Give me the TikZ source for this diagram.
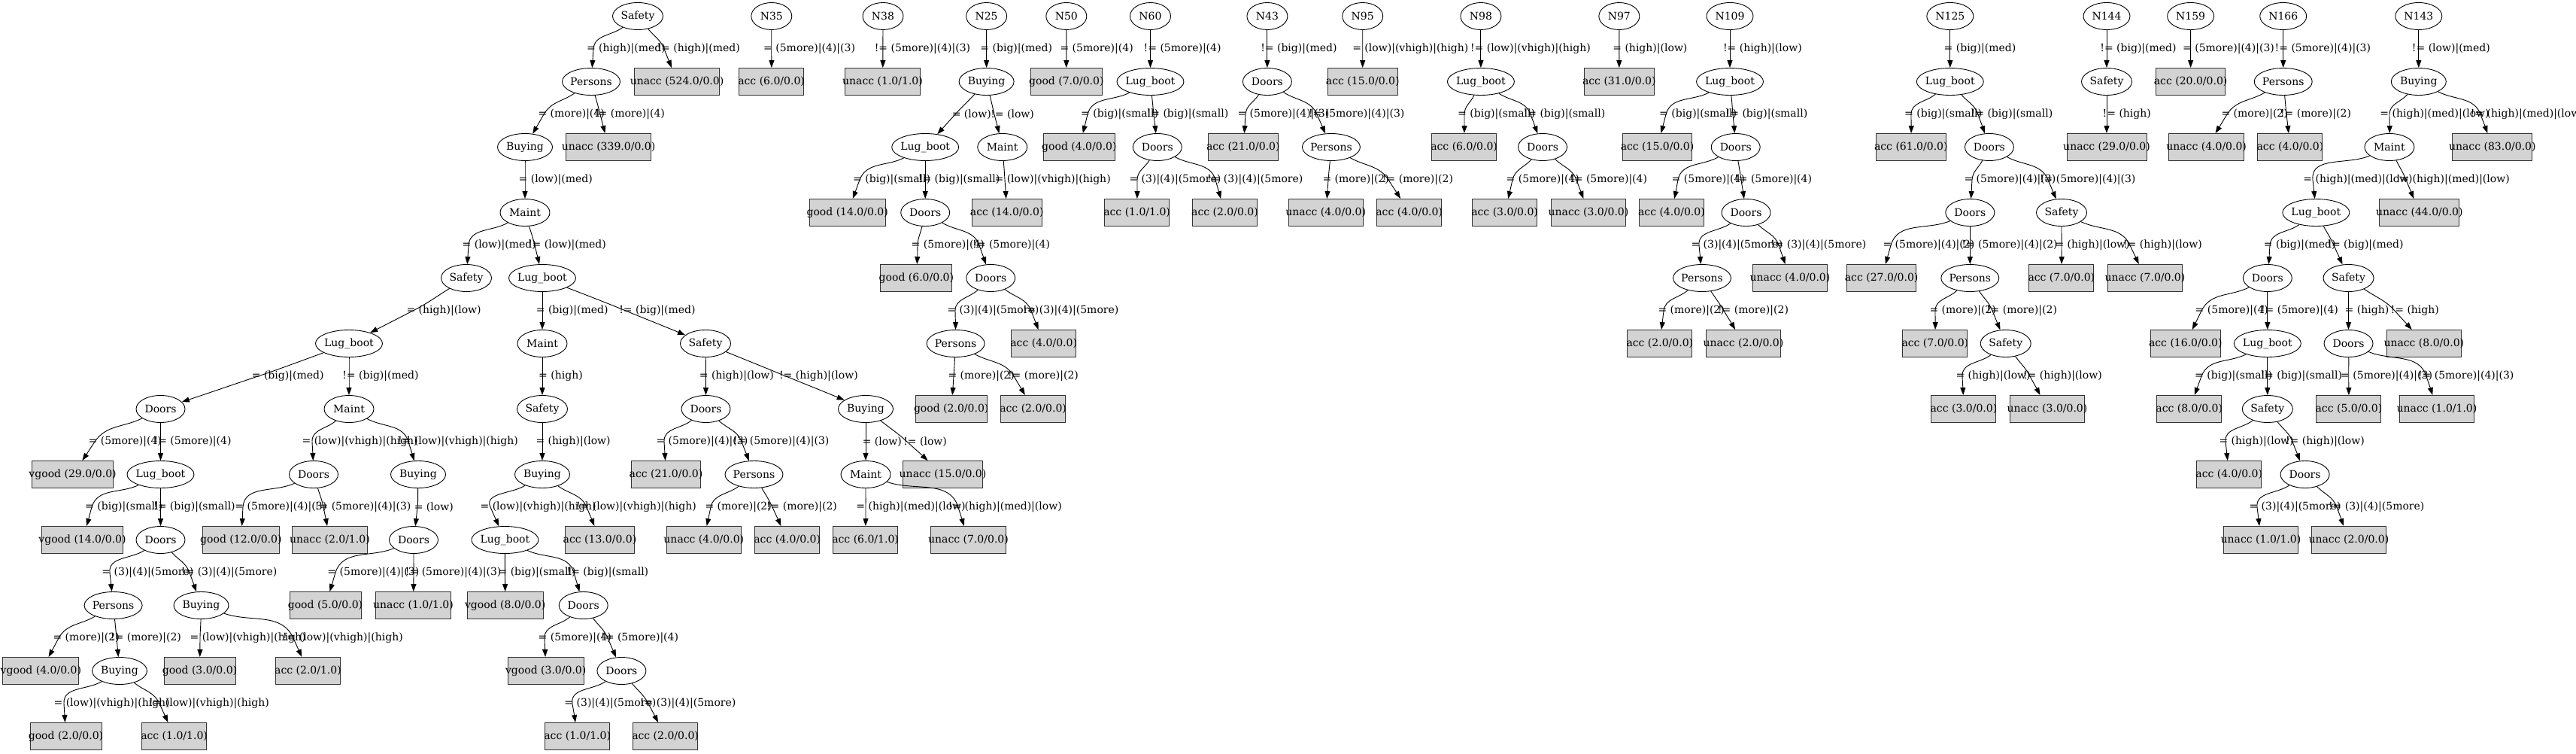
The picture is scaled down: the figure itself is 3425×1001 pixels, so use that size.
\documentclass[tikz,border=0pt]{standalone}
\usepackage{fontspec}
\setmainfont{DejaVu Serif}
\usetikzlibrary{shapes.geometric,arrows.meta,calc}
\definecolor{lgray}{HTML}{D3D3D3}
\newcommand\elab[1]{\setbox0\hbox{#1}\kern-0.09\wd0\box0}
\newcommand\ed[4]{\draw[arr] let \p1=(#1), \p2=(#2), \p3=(#3pt,{0.5*\y1+0.5*\y2}),
  \n1={atan2(\y3-\y1,\x3-\x1)}, \n2={atan2(\y2-\y3,\x2-\x3)}, \n3={\n2+180} in
  (#1) to[out=\n1,in=\n3] (\p3) node[lab]{\elab{#4}} to[out=\n2,in=\n3] (#2);}
\tikzset{
  ell/.style={ellipse, draw, line width=0.9pt, inner sep=-60pt, minimum height=36pt},
  eSafety/.style={ell, minimum width=67pt},
  ePersons/.style={ell, minimum width=77pt},
  eBuying/.style={ell, minimum width=73pt},
  eMaint/.style={ell, minimum width=66pt},
  eLug/.style={ell, minimum width=89pt},
  eDoors/.style={ell, minimum width=65pt},
  eN/.style={ell, minimum width=54pt},
  eNN/.style={ell, minimum width=62pt},
  leaf/.style={rectangle, draw=black!80, fill=lgray, line width=0.9pt, inner sep=-60pt, minimum height=36pt, minimum width=#1},
  lab/.style={anchor=west, inner sep=0pt},
  arr/.style={line width=0.9pt, -{Triangle[length=10pt,width=7pt]}}
}
\begin{document}
\begin{tikzpicture}[x=1pt,y=1pt,font=\fontsize{14pt}{16pt}\selectfont]
\useasboundingbox (0,0) rectangle (3425,-1001);
% ---------- tree A ----------
\node[eSafety] (a0) at (848,-21.5) {Safety};
\node[ePersons] (a1) at (786,-108.5) {Persons};
\node[leaf=112.5] (a2) at (900,-108.5) {unacc (524.0/0.0)};
\node[eBuying] (a3) at (698,-195.5) {Buying};
\node[leaf=112.5] (a4) at (809,-195.5) {unacc (339.0/0.0)};
\node[eMaint] (a5) at (698,-282.5) {Maint};
\node[eSafety] (a6) at (620,-369.5) {Safety};
\node[eLug] (a7) at (721,-369.5) {Lug\_boot};
\node[eLug] (a8) at (464,-456.5) {Lug\_boot};
\node[eMaint] (a9) at (721,-456.5) {Maint};
\node[eSafety] (a10) at (938,-456.5) {Safety};
\node[eDoors] (a11) at (213.5,-543.5) {Doors};
\node[eMaint] (a12) at (464,-543.5) {Maint};
\node[eSafety] (a13) at (721,-543.5) {Safety};
\node[eDoors] (a14) at (938.5,-543.5) {Doors};
\node[eBuying] (a15) at (1151,-543.5) {Buying};
\node[leaf=107.5] (a16) at (96.6,-630.5) {vgood (29.0/0.0)};
\node[eLug] (a17) at (213.5,-630.5) {Lug\_boot};
\node[eDoors] (a18) at (417,-630.5) {Doors};
\node[eBuying] (a19) at (556,-630.5) {Buying};
\node[eBuying] (a20) at (721,-630.5) {Buying};
\node[leaf=92.5] (a21) at (885.5,-630.5) {acc (21.0/0.0)};
\node[ePersons] (a22) at (1002.5,-630.5) {Persons};
\node[eMaint] (a23) at (1151,-630.5) {Maint};
\node[leaf=106] (a24) at (1253.5,-630.5) {unacc (15.0/0.0)};
\node[leaf=107.5] (a25) at (109.5,-717.5) {vgood (14.0/0.0)};
\node[eDoors] (a26) at (213.5,-717.5) {Doors};
\node[leaf=101.5] (a27) at (320.4,-717.5) {good (12.0/0.0)};
\node[leaf=99.5] (a28) at (438.4,-717.5) {unacc (2.0/1.0)};
\node[eDoors] (a29) at (550,-717.5) {Doors};
\node[eLug] (a30) at (671.4,-717.5) {Lug\_boot};
\node[leaf=92.5] (a31) at (797.5,-717.5) {acc (13.0/0.0)};
\node[leaf=99.5] (a32) at (935.8,-717.5) {unacc (4.0/0.0)};
\node[leaf=86] (a33) at (1046.7,-717.5) {acc (4.0/0.0)};
\node[leaf=86] (a34) at (1150.6,-717.5) {acc (6.0/1.0)};
\node[leaf=99.5] (a35) at (1287.5,-717.5) {unacc (7.0/0.0)};
\node[ePersons] (a36) at (150.6,-804.5) {Persons};
\node[eBuying] (a37) at (267.5,-804.5) {Buying};
\node[leaf=95] (a38) at (432.5,-804.5) {good (5.0/0.0)};
\node[leaf=99.5] (a39) at (549.5,-804.5) {unacc (1.0/1.0)};
\node[leaf=101] (a40) at (671.7,-804.5) {vgood (8.0/0.0)};
\node[eDoors] (a41) at (775.7,-804.5) {Doors};
\node[leaf=101] (a42) at (54.4,-891.5) {vgood (4.0/0.0)};
\node[eBuying] (a43) at (159,-891.5) {Buying};
\node[leaf=95] (a44) at (265.5,-891.5) {good (3.0/0.0)};
\node[leaf=86] (a45) at (409.5,-891.5) {acc (2.0/1.0)};
\node[leaf=101] (a46) at (725.7,-891.5) {vgood (3.0/0.0)};
\node[eDoors] (a47) at (826.4,-891.5) {Doors};
\node[leaf=95] (a48) at (87.5,-978.5) {good (2.0/0.0)};
\node[leaf=86] (a49) at (231.6,-978.5) {acc (1.0/1.0)};
\node[leaf=86] (a50) at (767.7,-978.5) {acc (1.0/1.0)};
\node[leaf=86] (a51) at (884.6,-978.5) {acc (2.0/0.0)};
% ---------- small trees ----------
\node[eN] (b0) at (1025.8,-21.5) {N35};
\node[leaf=86] (b1) at (1025.6,-108.5) {acc (6.0/0.0)};
\node[eN] (c0) at (1174,-21.5) {N38};
\node[leaf=99.5] (c1) at (1173.5,-108.5) {unacc (1.0/1.0)};
\node[eN] (d0) at (1311.6,-21.5) {N25};
\node[eBuying] (d1) at (1311.6,-108.5) {Buying};
\node[eLug] (d2) at (1230.2,-195.5) {Lug\_boot};
\node[eMaint] (d3) at (1332.7,-195.5) {Maint};
\node[leaf=101.5] (d4) at (1126.7,-282.5) {good (14.0/0.0)};
\node[eDoors] (d5) at (1230.2,-282.5) {Doors};
\node[leaf=92.5] (d6) at (1338.7,-282.5) {acc (14.0/0.0)};
\node[leaf=95] (d7) at (1218.4,-369.5) {good (6.0/0.0)};
\node[eDoors] (d8) at (1317.2,-369.5) {Doors};
\node[ePersons] (d9) at (1270.6,-456.5) {Persons};
\node[leaf=86] (d10) at (1387.7,-456.5) {acc (4.0/0.0)};
\node[leaf=95] (d11) at (1264.7,-543.5) {good (2.0/0.0)};
\node[leaf=86] (d12) at (1373.6,-543.5) {acc (2.0/0.0)};
\node[eN] (e0) at (1417.8,-21.5) {N50};
\node[leaf=95] (e1) at (1417.8,-108.5) {good (7.0/0.0)};
\node[eN] (f0) at (1529.5,-21.5) {N60};
\node[eLug] (f1) at (1529.5,-108.5) {Lug\_boot};
\node[leaf=95] (f2) at (1434.9,-195.5) {good (4.0/0.0)};
\node[eDoors] (f3) at (1538.8,-195.5) {Doors};
\node[leaf=86] (f4) at (1511.6,-282.5) {acc (1.0/1.0)};
\node[leaf=86] (f5) at (1628.5,-282.5) {acc (2.0/0.0)};
\node[eN] (g0) at (1684.9,-21.5) {N43};
\node[eDoors] (g1) at (1684.9,-108.5) {Doors};
\node[leaf=92.5] (g2) at (1652.8,-195.5) {acc (21.0/0.0)};
\node[ePersons] (g3) at (1769.9,-195.5) {Persons};
\node[leaf=99.5] (g4) at (1762.7,-282.5) {unacc (4.0/0.0)};
\node[leaf=86] (g5) at (1873.7,-282.5) {acc (4.0/0.0)};
\node[eN] (h0) at (1811.7,-21.5) {N95};
\node[leaf=92.5] (h1) at (1811.7,-108.5) {acc (15.0/0.0)};
\node[eN] (i0) at (1968.9,-21.5) {N98};
\node[eLug] (i1) at (1968.9,-108.5) {Lug\_boot};
\node[leaf=86] (i2) at (1946.6,-195.5) {acc (6.0/0.0)};
\node[eDoors] (i3) at (2051,-195.5) {Doors};
\node[leaf=86] (i4) at (2000.6,-282.5) {acc (3.0/0.0)};
\node[leaf=99.5] (i5) at (2112,-282.5) {unacc (3.0/0.0)};
\node[eN] (j0) at (2152.8,-21.5) {N97};
\node[leaf=92.5] (j1) at (2152.8,-108.5) {acc (31.0/0.0)};
\node[eNN] (k0) at (2300,-21.5) {N109};
\node[eLug] (k1) at (2300,-108.5) {Lug\_boot};
\node[leaf=92.5] (k2) at (2203.5,-195.5) {acc (15.0/0.0)};
\node[eDoors] (k3) at (2307.7,-195.5) {Doors};
\node[leaf=86] (k4) at (2222.4,-282.5) {acc (4.0/0.0)};
\node[eDoors] (k5) at (2321.5,-282.5) {Doors};
\node[ePersons] (k6) at (2263,-369.5) {Persons};
\node[leaf=99.5] (k7) at (2380,-369.5) {unacc (4.0/0.0)};
\node[leaf=86] (k8) at (2206.8,-456.5) {acc (2.0/0.0)};
\node[leaf=99.5] (k9) at (2317.9,-456.5) {unacc (2.0/0.0)};
\node[eNN] (l0) at (2592.8,-21.5) {N125};
\node[eLug] (l1) at (2592.8,-108.5) {Lug\_boot};
\node[leaf=92.5] (l2) at (2540.8,-195.5) {acc (61.0/0.0)};
\node[eDoors] (l3) at (2644.9,-195.5) {Doors};
\node[eDoors] (l4) at (2619.3,-282.5) {Doors};
\node[eSafety] (l5) at (2741,-282.5) {Safety};
\node[leaf=92.5] (l6) at (2501.6,-369.5) {acc (27.0/0.0)};
\node[ePersons] (l7) at (2619.3,-369.5) {Persons};
\node[leaf=86] (l8) at (2740.8,-369.5) {acc (7.0/0.0)};
\node[leaf=99.5] (l9) at (2852,-369.5) {unacc (7.0/0.0)};
\node[leaf=86] (l10) at (2572.8,-456.5) {acc (7.0/0.0)};
\node[eSafety] (l11) at (2666.7,-456.5) {Safety};
\node[leaf=86] (l12) at (2610.9,-543.5) {acc (3.0/0.0)};
\node[leaf=99.5] (l13) at (2722,-543.5) {unacc (3.0/0.0)};
\node[eNN] (m0) at (2801,-21.5) {N144};
\node[eSafety] (m1) at (2801,-108.5) {Safety};
\node[leaf=106] (m2) at (2801,-195.5) {unacc (29.0/0.0)};
\node[eNN] (n0) at (2912.6,-21.5) {N159};
\node[leaf=92.5] (n1) at (2912.6,-108.5) {acc (20.0/0.0)};
\node[eNN] (o0) at (3035.7,-21.5) {N166};
\node[ePersons] (o1) at (3035.7,-108.5) {Persons};
\node[leaf=99.5] (o2) at (2933.6,-195.5) {unacc (4.0/0.0)};
\node[leaf=86] (o3) at (3044.9,-195.5) {acc (4.0/0.0)};
\node[eNN] (p0) at (3215.8,-21.5) {N143};
\node[eBuying] (p1) at (3215.8,-108.5) {Buying};
\node[eMaint] (p2) at (3176.9,-195.5) {Maint};
\node[leaf=106] (p3) at (3313.8,-195.5) {unacc (83.0/0.0)};
\node[eLug] (p4) at (3079.3,-282.5) {Lug\_boot};
\node[leaf=106] (p5) at (3216.8,-282.5) {unacc (44.0/0.0)};
\node[eDoors] (p6) at (3014.8,-369.5) {Doors};
\node[eSafety] (p7) at (3122.5,-369.5) {Safety};
\node[leaf=92.5] (p8) at (2905.8,-456.5) {acc (16.0/0.0)};
\node[eLug] (p9) at (3014.8,-456.5) {Lug\_boot};
\node[eDoors] (p10) at (3122.5,-456.5) {Doors};
\node[leaf=99.5] (p11) at (3222.8,-456.5) {unacc (8.0/0.0)};
\node[leaf=86] (p12) at (2910.7,-543.5) {acc (8.0/0.0)};
\node[eSafety] (p13) at (3014.8,-543.5) {Safety};
\node[leaf=86] (p14) at (3122.9,-543.5) {acc (5.0/0.0)};
\node[leaf=99.5] (p15) at (3240,-543.5) {unacc (1.0/1.0)};
\node[leaf=86] (p16) at (2963.7,-630.5) {acc (4.0/0.0)};
\node[eDoors] (p17) at (3064.6,-630.5) {Doors};
\node[leaf=99.5] (p18) at (3006,-717.5) {unacc (1.0/1.0)};
\node[leaf=99.5] (p19) at (3122.9,-717.5) {unacc (2.0/0.0)};
% ---------- edges tree A ----------
\ed{a0}{a1}{789}{= (high)|(med)}
\ed{a0}{a2}{883}{!= (high)|(med)}
\ed{a1}{a3}{723}{= (more)|(4)}
\ed{a1}{a4}{798}{!= (more)|(4)}
\ed{a3}{a5}{698}{= (low)|(med)}
\ed{a5}{a6}{623}{= (low)|(med)}
\ed{a5}{a7}{711}{!= (low)|(med)}
\ed{a6}{a8}{549}{= (high)|(low)}
\ed{a7}{a9}{721}{= (big)|(med)}
\ed{a7}{a10}{832}{!= (big)|(med)}
\ed{a8}{a11}{343}{= (big)|(med)}
\ed{a8}{a12}{464}{!= (big)|(med)}
\ed{a9}{a13}{721}{= (high)}
\ed{a10}{a14}{938.3}{= (high)|(low)}
\ed{a10}{a15}{1045}{!= (high)|(low)}
\ed{a11}{a16}{126}{= (5more)|(4)}
\ed{a11}{a17}{213.5}{!= (5more)|(4)}
\ed{a12}{a18}{415}{= (low)|(vhigh)|(high)}
\ed{a12}{a19}{543}{!= (low)|(vhigh)|(high)}
\ed{a13}{a20}{721}{= (high)|(low)}
\ed{a14}{a21}{883}{= (5more)|(4)|(3)}
\ed{a14}{a22}{986}{!= (5more)|(4)|(3)}
\ed{a15}{a23}{1151}{= (low)}
\ed{a15}{a24}{1206}{!= (low)}
\ed{a17}{a25}{122}{= (big)|(small)}
\ed{a17}{a26}{213.5}{!= (big)|(small)}
\ed{a18}{a27}{323}{= (5more)|(4)|(3)}
\ed{a18}{a28}{430}{!= (5more)|(4)|(3)}
\ed{a19}{a29}{555}{= (low)}
\ed{a20}{a30}{652}{= (low)|(vhigh)|(high)}
\ed{a20}{a31}{780}{!= (low)|(vhigh)|(high)}
\ed{a22}{a32}{945}{= (more)|(2)}
\ed{a22}{a33}{1027}{!= (more)|(2)}
\ed{a23}{a34}{1151}{= (high)|(med)|(low)}
\ed{a23}{a35}{1274}{!= (high)|(med)|(low)}
\ed{a26}{a36}{146}{= (3)|(4)|(5more)}
\ed{a26}{a37}{252}{!= (3)|(4)|(5more)}
\ed{a29}{a38}{446}{= (5more)|(4)|(3)}
\ed{a29}{a39}{550}{!= (5more)|(4)|(3)}
\ed{a30}{a40}{671.4}{= (big)|(small)}
\ed{a30}{a41}{763}{!= (big)|(small)}
\ed{a36}{a42}{78}{= (more)|(2)}
\ed{a36}{a43}{155}{!= (more)|(2)}
\ed{a37}{a44}{266}{= (low)|(vhigh)|(high)}
\ed{a37}{a45}{390}{!= (low)|(vhigh)|(high)}
\ed{a41}{a46}{724}{= (5more)|(4)}
\ed{a41}{a47}{808}{!= (5more)|(4)}
\ed{a43}{a48}{85}{= (low)|(vhigh)|(high)}
\ed{a43}{a49}{212}{!= (low)|(vhigh)|(high)}
\ed{a47}{a50}{761}{= (3)|(4)|(5more)}
\ed{a47}{a51}{862}{!= (3)|(4)|(5more)}
% ---------- edges small trees ----------
\ed{b0}{b1}{1025.7}{= (5more)|(4)|(3)}
\ed{c0}{c1}{1173.8}{!= (5more)|(4)|(3)}
\ed{d0}{d1}{1311.6}{= (big)|(med)}
\ed{d1}{d2}{1270}{= (low)}
\ed{d1}{d3}{1322}{!= (low)}
\ed{d2}{d4}{1143}{= (big)|(small)}
\ed{d2}{d5}{1230.2}{!= (big)|(small)}
\ed{d3}{d6}{1336}{= (low)|(vhigh)|(high)}
\ed{d5}{d7}{1220}{= (5more)|(4)}
\ed{d5}{d8}{1302}{!= (5more)|(4)}
\ed{d8}{d9}{1270}{= (3)|(4)|(5more)}
\ed{d8}{d10}{1371}{!= (3)|(4)|(5more)}
\ed{d9}{d11}{1268}{= (more)|(2)}
\ed{d9}{d12}{1348}{!= (more)|(2)}
\ed{e0}{e1}{1417.8}{= (5more)|(4)}
\ed{f0}{f1}{1529.5}{!= (5more)|(4)}
\ed{f1}{f2}{1446}{= (big)|(small)}
\ed{f1}{f3}{1534}{!= (big)|(small)}
\ed{f3}{f4}{1512}{= (3)|(4)|(5more)}
\ed{f3}{f5}{1616}{!= (3)|(4)|(5more)}
\ed{g0}{g1}{1684.9}{!= (big)|(med)}
\ed{g1}{g2}{1656}{= (5more)|(4)|(3)}
\ed{g1}{g3}{1751}{!= (5more)|(4)|(3)}
\ed{g3}{g4}{1766}{= (more)|(2)}
\ed{g3}{g5}{1846}{!= (more)|(2)}
\ed{h0}{h1}{1811.7}{= (low)|(vhigh)|(high)}
\ed{i0}{i1}{1968.9}{!= (low)|(vhigh)|(high)}
\ed{i1}{i2}{1947}{= (big)|(small)}
\ed{i1}{i3}{2035}{!= (big)|(small)}
\ed{i3}{i4}{2011}{= (5more)|(4)}
\ed{i3}{i5}{2096}{!= (5more)|(4)}
\ed{j0}{j1}{2152.8}{= (high)|(low)}
\ed{k0}{k1}{2300}{!= (high)|(low)}
\ed{k1}{k2}{2215}{= (big)|(small)}
\ed{k1}{k3}{2304}{!= (big)|(small)}
\ed{k3}{k4}{2231}{= (5more)|(4)}
\ed{k3}{k5}{2315}{!= (5more)|(4)}
\ed{k5}{k6}{2259}{= (3)|(4)|(5more)}
\ed{k5}{k7}{2365}{!= (3)|(4)|(5more)}
\ed{k6}{k8}{2212}{= (more)|(2)}
\ed{k6}{k9}{2292}{!= (more)|(2)}
\ed{l0}{l1}{2592.8}{= (big)|(med)}
\ed{l1}{l2}{2541}{= (big)|(small)}
\ed{l1}{l3}{2630}{!= (big)|(small)}
\ed{l3}{l4}{2622}{= (5more)|(4)|(3)}
\ed{l3}{l5}{2723}{!= (5more)|(4)|(3)}
\ed{l4}{l6}{2514}{= (5more)|(4)|(2)}
\ed{l4}{l7}{2619.3}{!= (5more)|(4)|(2)}
\ed{l5}{l8}{2741}{= (high)|(low)}
\ed{l5}{l9}{2832}{!= (high)|(low)}
\ed{l7}{l10}{2573}{= (more)|(2)}
\ed{l7}{l11}{2649}{!= (more)|(2)}
\ed{l11}{l12}{2609}{= (high)|(low)}
\ed{l11}{l13}{2699}{!= (high)|(low)}
\ed{m0}{m1}{2801}{!= (big)|(med)}
\ed{m1}{m2}{2801}{!= (high)}
\ed{n0}{n1}{2912.6}{= (5more)|(4)|(3)}
\ed{o0}{o1}{3035.7}{!= (5more)|(4)|(3)}
\ed{o1}{o2}{2961}{= (more)|(2)}
\ed{o1}{o3}{3040}{!= (more)|(2)}
\ed{p0}{p1}{3215.8}{!= (low)|(med)}
\ed{p1}{p2}{3177}{= (high)|(med)|(low)}
\ed{p1}{p3}{3298}{!= (high)|(med)|(low)}
\ed{p2}{p4}{3075}{= (high)|(med)|(low)}
\ed{p2}{p5}{3199}{!= (high)|(med)|(low)}
\ed{p4}{p6}{3018}{= (big)|(med)}
\ed{p4}{p7}{3103}{!= (big)|(med)}
\ed{p6}{p8}{2927}{= (5more)|(4)}
\ed{p6}{p9}{3014.8}{!= (5more)|(4)}
\ed{p7}{p10}{3122.5}{= (high)}
\ed{p7}{p11}{3184}{!= (high)}
\ed{p9}{p12}{2927}{= (big)|(small)}
\ed{p9}{p13}{3014.8}{!= (big)|(small)}
\ed{p10}{p14}{3122.7}{= (5more)|(4)|(3)}
\ed{p10}{p15}{3226}{!= (5more)|(4)|(3)}
\ed{p13}{p16}{2959}{= (high)|(low)}
\ed{p13}{p17}{3048}{!= (high)|(low)}
\ed{p17}{p18}{3001}{= (3)|(4)|(5more)}
\ed{p17}{p19}{3107}{!= (3)|(4)|(5more)}
\end{tikzpicture}
\end{document}
